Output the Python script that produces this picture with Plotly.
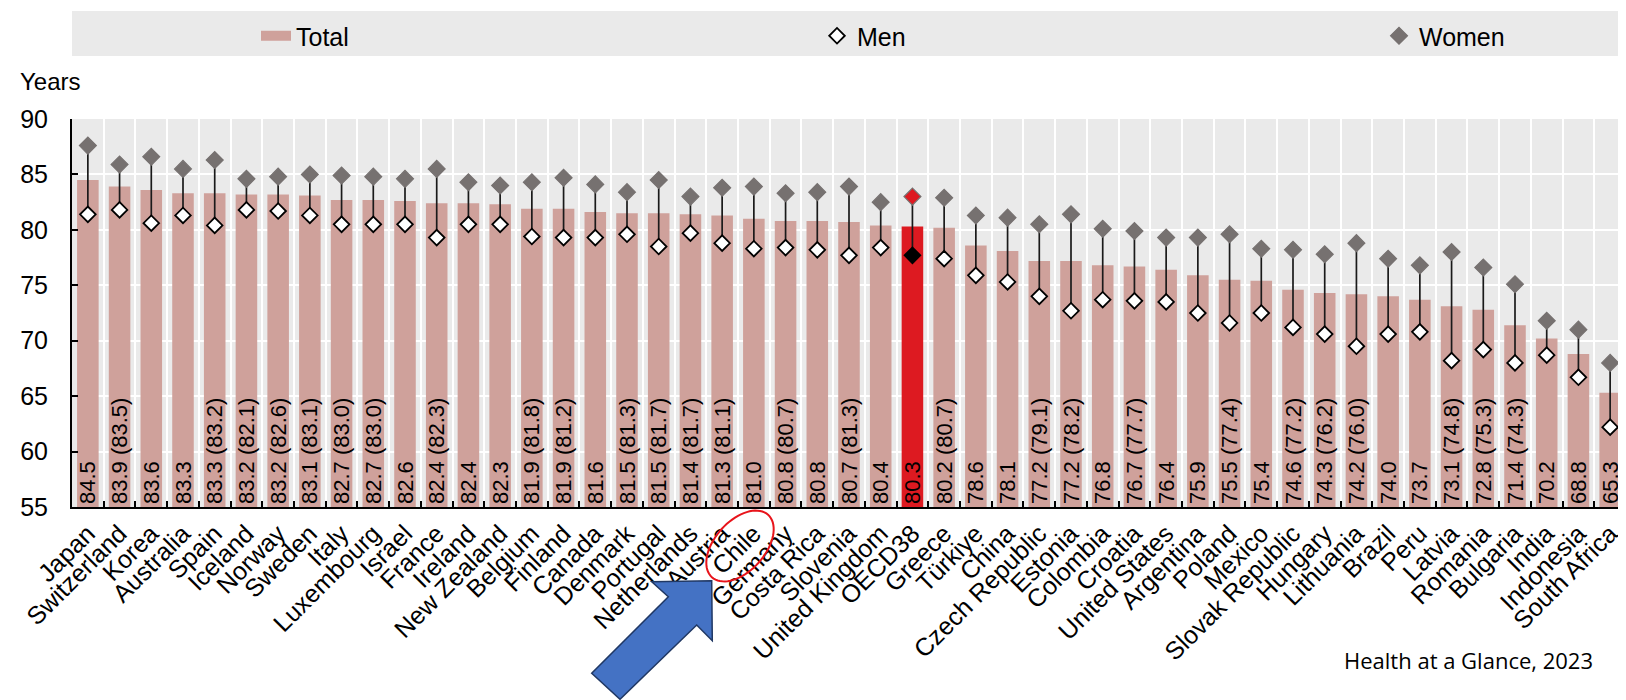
import plotly.graph_objects as go
import numpy as np

countries = ["Japan", "Switzerland", "Korea", "Australia", "Spain", "Iceland", "Norway", "Sweden",
             "Italy", "Luxembourg", "Israel", "France", "Ireland", "New Zealand", "Belgium", "Finland",
             "Canada", "Denmark", "Portugal", "Netherlands", "Austria", "Chile", "Germany", "Costa Rica",
             "Slovenia", "United Kingdom", "OECD38", "Greece", "Türkiye", "China", "Czech Republic",
             "Estonia", "Colombia", "Croatia", "United States", "Argentina", "Poland", "Mexico",
             "Slovak Republic", "Hungary", "Lithuania", "Brazil", "Peru", "Latvia", "Romania",
             "Bulgaria", "India", "Indonesia", "South Africa"]

total = [84.5, 83.9, 83.6, 83.3, 83.3, 83.2, 83.2, 83.1, 82.7, 82.7, 82.6, 82.4, 82.4, 82.3, 81.9, 81.9,
         81.6, 81.5, 81.5, 81.4, 81.3, 81.0, 80.8, 80.8, 80.7, 80.4, 80.3, 80.2, 78.6, 78.1, 77.2,
         77.2, 76.8, 76.7, 76.4, 75.9, 75.5, 75.4, 74.6, 74.3, 74.2, 74.0, 73.7, 73.1, 72.8,
         71.4, 70.2, 68.8, 65.3]

# value shown in brackets (None = no bracketed value)
total_bracket = [None, 83.5, None, None, 83.2, 82.1, 82.6, 83.1, 83.0, 83.0, None, 82.3, None, None, 81.8, 81.2,
                 None, 81.3, 81.7, 81.7, 81.1, None, 80.7, None, 81.3, None, None, 80.7, None, None, 79.1,
                 78.2, None, 77.7, None, None, 77.4, None, 77.2, 76.2, 76.0, None, None, 74.8, 75.3,
                 74.3, None, None, None]

men = [81.4, 81.8, 80.6, 81.3, 80.4, 81.8, 81.7, 81.3, 80.5, 80.5, 80.5, 79.3, 80.5, 80.5, 79.4, 79.3,
       79.3, 79.6, 78.5, 79.7, 78.8, 78.3, 78.4, 78.2, 77.7, 78.4, 77.7, 77.4, 75.9, 75.3, 74.0,
       72.7, 73.7, 73.6, 73.5, 72.5, 71.6, 72.5, 71.2, 70.6, 69.5, 70.6, 70.8, 68.2, 69.2,
       68.0, 68.7, 66.7, 62.2]

women = [87.6, 85.9, 86.6, 85.5, 86.3, 84.6, 84.8, 85.0, 84.9, 84.8, 84.6, 85.5, 84.3, 84.0, 84.3, 84.7,
         84.1, 83.4, 84.5, 83.0, 83.8, 83.9, 83.3, 83.4, 83.9, 82.5, 83.0, 82.9, 81.3, 81.1, 80.5,
         81.4, 80.1, 79.9, 79.3, 79.3, 79.6, 78.3, 78.2, 77.8, 78.8, 77.4, 76.8, 78.0, 76.6,
         75.1, 71.8, 71.0, 68.0]

y_ticks = [55, 60, 65, 70, 75, 80, 85, 90]
highlight = "OECD38"
source_text = "Health at a Glance, 2023"

# ---- styles ----
NARROW = "Liberation Sans Narrow, Arial Narrow, Liberation Sans, Arial, sans-serif"
BAR_COL = "#CFA19B"
HI_COL = "#DD1A21"
WOMEN_COL = "#767170"
BG = "#EAEAEA"

OFF = 8                      # page body margin of the html page
W, H = 1626 - OFF, 700 - OFF
L, T = 72 - OFF, 119 - OFF
PLOT_BOTTOM = 507 - OFF
R, B = 0, H - PLOT_BOTTOM
PW, PH = W - L - R, H - T - B


def px2paper(x, y):
    """page pixel -> paper coordinates"""
    return ((x - OFF) - L) / PW, (PLOT_BOTTOM - (y - OFF)) / PH


base = y_ticks[0]
bar_colors = [HI_COL if c == highlight else BAR_COL for c in countries]
bar_text = [f"{t:.1f} ({b:.1f})" if b is not None else f"{t:.1f}" for t, b in zip(total, total_bracket)]

fig = go.Figure()

fig.add_trace(go.Bar(
    x=countries, y=[t - base for t in total], base=base,
    marker=dict(color=bar_colors, line=dict(width=0)),
    width=0.68, name="Total", showlegend=False,
    text=bar_text, textposition="inside", insidetextanchor="start", textangle=-90,
    constraintext="none", cliponaxis=False,
    insidetextfont=dict(family=NARROW, size=22, color="black"),
))

# legend sample for the bars (wide swatch)
fig.add_trace(go.Scatter(x=[None], y=[None], mode="lines", name="Total",
                         line=dict(color=BAR_COL, width=15), legend="legend"))

# connecting lines men -> women
lx, ly = [], []
for c, m, w in zip(countries, men, women):
    lx += [c, c, None]
    ly += [m, w, None]
fig.add_trace(go.Scatter(x=lx, y=ly, mode="lines", line=dict(color="#1a1a1a", width=1.7),
                         showlegend=False, hoverinfo="skip"))

fig.add_trace(go.Scatter(
    x=countries, y=men, mode="markers", name="Men",
    marker=dict(symbol="diamond", size=12,
                color=["black" if c == highlight else "white" for c in countries],
                line=dict(color="black", width=1.8)),
    legend="legend2",
))

fig.add_trace(go.Scatter(
    x=countries, y=women, mode="markers", name="Women",
    marker=dict(symbol="diamond", size=13,
                color=[HI_COL if c == highlight else WOMEN_COL for c in countries],
                line=dict(color=WOMEN_COL, width=1.2)),
    legend="legend3",
))

# legend background band
lb0 = px2paper(72, 56)
lb1 = px2paper(1630, 11)
shapes = [dict(type="rect", xref="paper", yref="paper", x0=lb0[0], y0=lb0[1], x1=lb1[0], y1=lb1[1],
               fillcolor=BG, line=dict(width=0), layer="below")]

# blue arrow (annotation decoration)
arrow_px = [(651.7, 581.7), (711.7, 580.7), (712.3, 640.7), (696.7, 625.0),
            (620.0, 699.3), (591.7, 673.3), (668.3, 596.7)]
pts = [px2paper(x, y) for x, y in arrow_px]
path = "M " + " L ".join(f"{x:.5f},{y:.5f}" for x, y in pts) + " Z"
shapes.append(dict(type="path", xref="paper", yref="paper", path=path,
                   fillcolor="#4472C4", line=dict(color="#203864", width=1.5), layer="above"))

# red ellipse around Chile
cx, cy, a, b, th = 740, 546, 42, 25, np.deg2rad(48)
tt = np.linspace(0, 2 * np.pi, 73)
ex = cx + a * np.cos(tt) * np.cos(th) - b * np.sin(tt) * np.sin(th)
ey = cy - (a * np.cos(tt) * np.sin(th) + b * np.sin(tt) * np.cos(th))
ep = [px2paper(x, y) for x, y in zip(ex, ey)]
epath = "M " + " L ".join(f"{x:.5f},{y:.5f}" for x, y in ep) + " Z"
shapes.append(dict(type="path", xref="paper", yref="paper", path=epath,
                   line=dict(color="#E8141B", width=2), layer="above"))

yx, yy = px2paper(18, 82)
sx, sy = px2paper(1595, 660)
annotations = [
    dict(text="Years", xref="paper", yref="paper", x=yx, y=yy, xanchor="left", yanchor="middle",
         showarrow=False, font=dict(family=NARROW, size=24, color="black")),
    dict(text=source_text, xref="paper", yref="paper", x=sx, y=sy, xanchor="right", yanchor="middle",
         showarrow=False, font=dict(family="Open Sans, Liberation Sans, sans-serif", size=22, color="black")),
]

leg_y = px2paper(0, 36)[1]
leg_common = dict(orientation="h", yanchor="middle", y=leg_y, xanchor="left", bgcolor="rgba(0,0,0,0)",
                  borderwidth=0, font=dict(family=NARROW, size=25, color="black"))

fig.update_layout(
    width=W, height=H, autosize=False,
    margin=dict(l=L, r=R, t=T, b=B, pad=0),
    plot_bgcolor=BG, paper_bgcolor="white",
    font=dict(family=NARROW, size=25, color="black"),
    legend=dict(x=px2paper(256, 0)[0], **leg_common),
    legend2=dict(x=px2paper(817, 0)[0], **leg_common),
    legend3=dict(x=px2paper(1379, 0)[0], **leg_common),
    shapes=shapes, annotations=annotations,
    xaxis=dict(type="category", range=[-0.5, len(countries) - 0.5], tickson="boundaries",
               showgrid=True, gridcolor="white", gridwidth=2,
               ticks="inside", ticklen=6, tickcolor="black", tickwidth=1.5,
               showline=True, linecolor="black", linewidth=2,
               tickangle=-45, tickfont=dict(family=NARROW, size=25, color="black")),
    yaxis=dict(range=[y_ticks[0], y_ticks[-1]], tickvals=y_ticks,
               showgrid=True, gridcolor="white", gridwidth=2, zeroline=False,
               ticks="inside", ticklen=6, tickcolor="black", tickwidth=1.5,
               showline=True, linecolor="black", linewidth=2, ticklabelstandoff=17,
               tickfont=dict(family=NARROW, size=25, color="black")),
)

fig.write_html("out.html")
